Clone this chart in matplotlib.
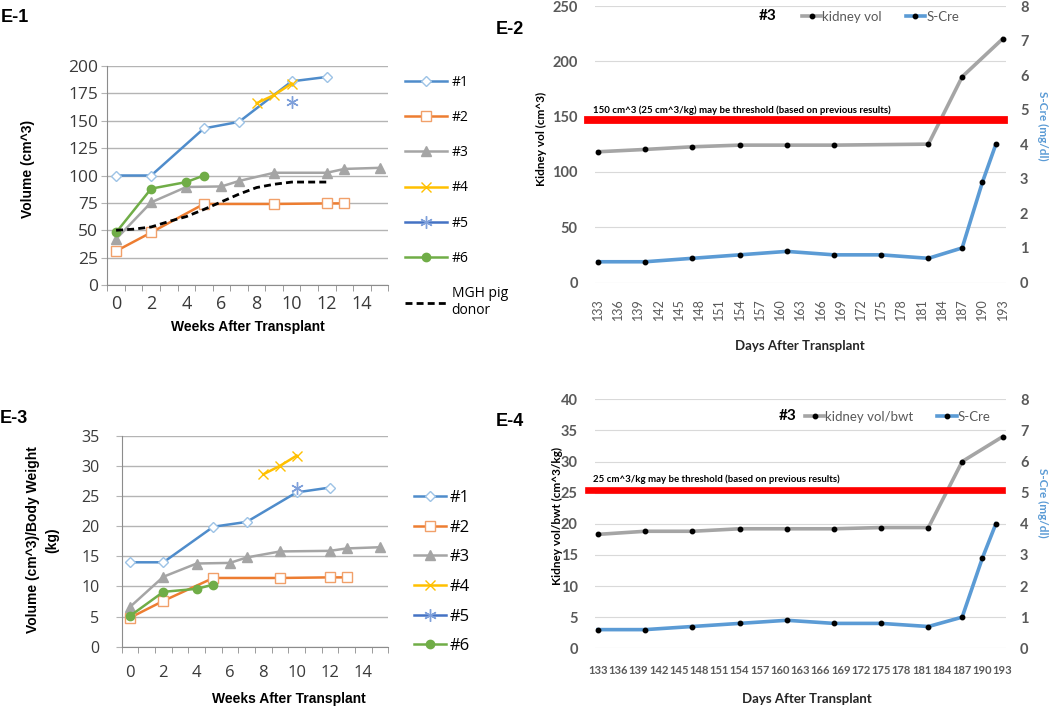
import numpy as np
import matplotlib
matplotlib.use("Agg")
import matplotlib.pyplot as plt
from matplotlib.lines import Line2D
from matplotlib.transforms import blended_transform_factory

# ---------------- data ----------------
series_names = ['#1', '#2', '#3', '#4', '#5', '#6']

weeks_1 = [0, 2, 5, 7, 10, 12]
weeks_2 = [0, 2, 5, 9, 12, 13]
weeks_3 = [0, 2, 4, 6, 7, 9, 12, 13, 15]
weeks_4 = [8, 9, 10]
weeks_5 = [10]
weeks_6 = [0, 2, 4, 5]

vol_1 = [100, 100, 143, 149, 186, 190]
vol_2 = [31, 48, 74, 74, 74.5, 74.5]
vol_3 = [42, 75.5, 89.5, 90, 95, 102.5, 102.5, 106, 107]
vol_4 = [166, 173.5, 184]
vol_5 = [167.5]
vol_6 = [48, 88, 94, 100]

donor_label = 'MGH pig\ndonor'
donor_weeks = [0, 1, 2, 3, 4, 5, 6, 7, 8, 9, 10, 11, 12]
donor_vol = [50, 51, 53, 58, 62.5, 69, 76, 83, 89, 92, 94, 94, 94]

ratio_1 = [14.0, 14.0, 19.9, 20.7, 25.6, 26.4]
ratio_2 = [4.8, 7.6, 11.4, 11.4, 11.5, 11.5]
ratio_3 = [6.6, 11.6, 13.8, 13.9, 14.8, 15.8, 15.9, 16.3, 16.5]
ratio_4 = [28.6, 30.0, 31.7]
ratio_5 = [26.4]
ratio_6 = [5.1, 9.1, 9.6, 10.3]

week_ticks = [0, 2, 4, 6, 8, 10, 12, 14]

days_vol = [133, 140, 147, 154, 161, 168, 182, 187, 193]
kidney_vol = [118.2, 120.3, 122.7, 124.2, 124.2, 124.2, 125.1, 186.0, 220.3]
days_vbw = [133, 140, 147, 154, 161, 168, 175, 182, 187, 193]
kidney_vbw = [18.3, 18.8, 18.8, 19.2, 19.2, 19.2, 19.4, 19.4, 30.0, 34.0]
days_cre = [133, 140, 147, 154, 161, 168, 175, 182, 187, 190, 192]
s_cre = [0.6, 0.6, 0.7, 0.8, 0.9, 0.8, 0.8, 0.7, 1.0, 2.9, 4.0]
day_ticks = list(range(133, 194, 3))

vol_threshold = 146.6
vbw_threshold = 25.5
vol_threshold_text = '150 cm^3 (25 cm^3/kg) may be threshold (based on previous results)'
vbw_threshold_text = '25 cm^3/kg may be threshold (based on previous results)'

weeks_all = [weeks_1, weeks_2, weeks_3, weeks_4, weeks_5, weeks_6]
vol_all = [vol_1, vol_2, vol_3, vol_4, vol_5, vol_6]
ratio_all = [ratio_1, ratio_2, ratio_3, ratio_4, ratio_5, ratio_6]

# ---------------- style ----------------
W, H = 1050, 708
SANS = ['Open Sans', 'DejaVu Sans']
BOLD = ['Liberation Sans', 'DejaVu Sans']
CAL = ['Lato', 'DejaVu Sans']
plt.rcParams['font.family'] = SANS
GRID = '#b4b4b4'
AXIS = '#8c8c8c'
TXT = '#3a3a3a'
XLGRAY = '#595959'
GRAYLINE = '#A5A5A5'
BLUELINE = '#5B9BD5'

STY = {
    '#1': dict(color='#4F8CCB', marker='D', ms=5, mfc='white', mec='#9DC3E6', mew=1),
    '#2': dict(color='#ED7D31', marker='s', ms=6.5, mfc='white', mec='#F1A06A', mew=1),
    '#3': dict(color='#A5A5A5', marker='^', ms=7, mfc='#A5A5A5', mec='#A5A5A5'),
    '#4': dict(color='#FFC000', marker='x', ms=7, mec='#FFC000', mew=1.0),
    '#5': dict(color='#4472C4', marker=(6, 2, 0), ms=9, mec='#7FA0DA', mew=1),
    '#6': dict(color='#70AD47', marker='o', ms=6, mfc='#70AD47', mec='#70AD47'),
}

fig = plt.figure(figsize=(W / 100, H / 100), dpi=100)


def px_axes(l, t, r, b):
    return fig.add_axes([l / W, 1 - b / H, (r - l) / W, (b - t) / H])


def weeks_axes(ax, ymax, ystep, tick_size, ypad, xpad):
    ax.set_xlim(-0.5, 15.5)
    ax.set_ylim(0, ymax)
    yt = np.arange(0, ymax + 0.1, ystep)
    ax.set_yticks(yt, labels=[f'{v:g}' for v in yt], fontsize=tick_size, color=TXT)
    ax.set_xticks(week_ticks, labels=[str(w) for w in week_ticks], fontsize=tick_size + 0.5, color=TXT)
    ax.set_xticks(np.arange(-0.5, 15.6, 1), minor=True)
    ax.grid(axis='y', color=GRID, lw=1)
    ax.set_axisbelow(True)
    for s in ('top', 'right'):
        ax.spines[s].set_visible(False)
    for s in ('left', 'bottom'):
        ax.spines[s].set_color(AXIS)
    ax.tick_params(axis='y', length=4, color=GRID, pad=ypad)
    ax.tick_params(axis='x', which='major', length=0, pad=xpad)
    ax.tick_params(axis='x', which='minor', length=4, color=AXIS)


# ---------------- E-1 ----------------
ax1 = px_axes(107.3, 66, 388.3, 285)
for name, wk, v in zip(series_names, weeks_all, vol_all):
    ax1.plot(wk, v, label=name, lw=1.8, **STY[name])
ax1.plot(donor_weeks, donor_vol, color='black', lw=2, ls=(0, (2.5, 1.5)), label=donor_label)
weeks_axes(ax1, 200, 25, 12.5, 2.5, 7)
ax1.set_ylabel('Volume (cm^3)', fontsize=10, fontweight='bold', family=BOLD)
ax1.yaxis.set_label_coords((28 - 107.3) / 281, (285 - 169) / 219)
ax1.yaxis.label.set_va('center')
ax1.set_xlabel('Weeks After Transplant', fontsize=10, fontweight='bold', family=BOLD)
ax1.xaxis.set_label_coords(0.5, (285 - 327) / 219)
ax1.xaxis.label.set_va('center')
ax1.legend(loc='upper left', bbox_to_anchor=(405 / W, 1 - 75 / H), bbox_transform=fig.transFigure,
           frameon=False, fontsize=10, handlelength=3.0, handletextpad=0.35, labelspacing=1.45,
           borderpad=0, borderaxespad=0, numpoints=1)

# ---------------- E-3 ----------------
ax3 = px_axes(121.7, 435.7, 388.3, 646.7)
for name, wk, v in zip(series_names, weeks_all, ratio_all):
    ax3.plot(wk, v, label=name, lw=1.8, **STY[name])
weeks_axes(ax3, 35, 5, 11.5, 12, 13)
ax3.set_ylabel('Volume (cm^3)/Body Weight\n(kg)', fontsize=10, fontweight='bold', family=BOLD,
               linespacing=1.5)
ax3.yaxis.set_label_coords((42.3 - 121.7) / 266.6, (646.7 - 540) / 211)
ax3.yaxis.label.set_va('center')
ax3.set_xlabel('Weeks After Transplant', fontsize=10, fontweight='bold', family=BOLD)
ax3.xaxis.set_label_coords((289 - 121.7) / 266.6, (646.7 - 699) / 211)
ax3.xaxis.label.set_va('center')
ax3.legend(loc='upper left', bbox_to_anchor=(414 / W, 1 - 490 / H), bbox_transform=fig.transFigure,
           frameon=False, fontsize=12, handlelength=1.94, handletextpad=0.2, labelspacing=0.82,
           borderpad=0, borderaxespad=0, numpoints=1)


# ---------------- E-2 / E-4 ----------------
def days_panel(box, xd, yd, ymax, ystep, leg_label, ylabel, ylab_xy, rlab_xy,
               thr, thr_text, thr_y, thr_xmax, thr_lw, xrot, xsize, xpad, title_xy, leg_xy):
    ax = px_axes(*box)
    ax.plot(xd, yd, color=GRAYLINE, lw=2.6, marker='o', ms=3.2, mfc='k', mec='k', zorder=3)
    ax.set_xlim(132.5, 193.5)
    ax.set_ylim(0, ymax)
    yt = list(range(0, ymax + 1, ystep))
    ax.set_yticks(yt, labels=[str(v) for v in yt], fontfamily=CAL, fontweight='bold',
                  fontsize=10.5, color=XLGRAY)
    ax.set_xticks(day_ticks, labels=[str(d) for d in day_ticks], rotation=xrot, fontfamily=CAL,
                  fontsize=xsize, color=XLGRAY, fontweight='bold' if xrot == 0 else 'normal')
    ax.tick_params(axis='both', length=0)
    ax.tick_params(axis='y', pad=12)
    ax.tick_params(axis='x', pad=xpad)
    ax.grid(axis='y', color='#D9D9D9', lw=0.8)
    ax.set_axisbelow(True)
    for s in ax.spines.values():
        s.set_visible(False)
    ax.set_ylabel(ylabel, fontsize=8.5, fontweight='bold', family=CAL)
    ax.yaxis.set_label_coords(*ylab_xy)
    ax.yaxis.label.set_va('center')
    ax.set_xlabel('Days After Transplant', fontsize=9.5, fontweight='bold', family=CAL, color='#262626')

    ax2 = ax.twinx()
    ax2.plot(days_cre, s_cre, color=BLUELINE, lw=2.6, marker='o', ms=3.2, mfc='k', mec='k', zorder=3)
    ax2.set_ylim(0, 8)
    rt = list(range(0, 9))
    ax2.set_yticks(rt, labels=[str(v) for v in rt], fontfamily=CAL, fontweight='bold',
                   fontsize=10.5, color=XLGRAY)
    ax2.tick_params(axis='y', length=0, pad=10)
    for s in ax2.spines.values():
        s.set_visible(False)
    ax2.set_ylabel('S-Cre (mg/dl)', fontsize=8.5, fontweight='bold', family=CAL, color=BLUELINE,
                   rotation=270)
    ax2.yaxis.set_label_coords(*rlab_xy)
    ax2.yaxis.label.set_va('center')

    ax2.axhline(thr * 8 / ymax, xmin=-0.017, xmax=thr_xmax, color='#FF0000', lw=thr_lw,
                clip_on=False, zorder=5)
    tr = blended_transform_factory(ax.transAxes, ax.transData)
    ax.text(-0.003, thr_y, thr_text, transform=tr, fontsize=6.9, fontweight='bold',
            family=CAL, va='center', ha='left', color='black')

    fig.text(title_xy[0] / W, 1 - title_xy[1] / H, '#3', ha='center', va='center',
             fontweight='bold', fontsize=11, family=CAL)
    h1 = Line2D([], [], color=GRAYLINE, lw=2.6, marker='o', ms=3.2, mfc='k', mec='k')
    h2 = Line2D([], [], color=BLUELINE, lw=2.6, marker='o', ms=3.2, mfc='k', mec='k')
    ax2.legend([h1, h2], [leg_label, 'S-Cre'], ncol=2, loc='center left',
               bbox_to_anchor=(leg_xy[0] / W, 1 - leg_xy[1] / H), bbox_transform=fig.transFigure,
               frameon=False, prop=dict(family=CAL, size=9.5), labelcolor=XLGRAY,
               handlelength=1.45, handletextpad=0.1, columnspacing=1.8, borderpad=0,
               borderaxespad=0, numpoints=1)
    return ax, ax2


axE2, axE2r = days_panel((594.5, 6, 1006, 282.5), days_vol, kidney_vol, 250, 50, 'kidney vol',
                         'Kidney vol (cm^3)', ((541 - 594.5) / 411.5, 0.521),
                         ((1043 - 594.5) / 411.5, (282.5 - 126) / 276.5),
                         vol_threshold, vol_threshold_text, 155.8, 0.995, 5.6, 90, 9, 11,
                         (768, 16.5), (802, 17))
axE2.xaxis.set_label_coords((800 - 594.5) / 411.5, (282.5 - 346) / 276.5)
axE2.xaxis.label.set_va('center')

axE4, axE4r = days_panel((594.5, 399.3, 1006, 648.3), days_vbw, kidney_vbw, 40, 5, 'kidney vol/bwt',
                         'Kidney vol/bwt (cm^3/kg)', ((557 - 594.5) / 411.5, 0.53),
                         ((1043 - 594.5) / 411.5, (648.3 - 503) / 249),
                         vbw_threshold, vbw_threshold_text, 27.15, 0.990, 4.8, 0, 8, 12,
                         (788, 416.5), (805, 417))
axE4.xaxis.set_label_coords((807 - 594.5) / 411.5, (648.3 - 699) / 249)
axE4.xaxis.label.set_va('center')

# ---------------- panel tags ----------------
for tag, (x, y) in zip(['E-1', 'E-2', 'E-3', 'E-4'], [(15, 18), (510, 29), (14, 418), (510, 421)]):
    fig.text(x / W, 1 - y / H, tag, ha='center', va='center', fontsize=13, fontweight='bold',
             family=BOLD)

fig.savefig('out.png', dpi=100)
